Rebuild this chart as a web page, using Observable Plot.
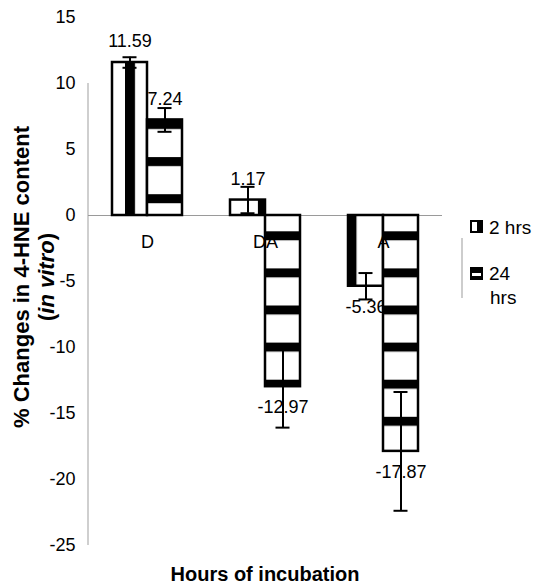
<!DOCTYPE html>
<html>
<head>
<meta charset="utf-8">
<script src="https://cdn.jsdelivr.net/npm/d3@7"></script>
<script src="https://cdn.jsdelivr.net/npm/@observablehq/plot@0.6"></script>
<style>
  body { margin: 0; background: #fff; }
  #chart svg { display: block; }
</style>
</head>
<body>
<div id="chart"></div>
<script>
// ---- data ----
const categories = ["D", "DA", "A"];
const seriesNames = ["2 hrs", "24 hrs"];
const values2h = [11.59, 1.17, -5.36];
const values24h = [7.24, -12.97, -17.87];
const errors2h = [0.4, 1.0, 1.0];
const errors24h = [0.9, 3.1, 4.5];
const labels2h = ["11.59", "1.17", "-5.36"];
const labels24h = ["7.24", "-12.97", "-17.87"];
const yTicks = [15, 10, 5, 0, -5, -10, -15, -20, -25];
const yTitle = "% Changes in 4-HNE content";
const xTitle = "Hours of incubation";

const rows2h = categories.map((c, i) => ({cat: c, value: values2h[i], err: errors2h[i], label: labels2h[i]}));
const rows24h = categories.map((c, i) => ({cat: c, value: values24h[i], err: errors24h[i], label: labels24h[i]}));

const font = "'Liberation Sans', Arial, sans-serif";
const half = 17.5;

function barMarks(rows, fill, inL, inR, dx) {
  return [
    Plot.barY(rows, {x: "cat", y: "value", insetLeft: inL, insetRight: inR,
      fill, stroke: "black", strokeWidth: 2.5}),
    Plot.ruleX(rows, {x: "cat", y1: d => d.value - d.err, y2: d => d.value + d.err,
      dx, stroke: "black", strokeWidth: 2}),
    Plot.tickY(rows, {x: "cat", y: d => d.value + d.err, dx, insetLeft: 52, insetRight: 52,
      stroke: "black", strokeWidth: 2}),
    Plot.tickY(rows, {x: "cat", y: d => d.value - d.err, dx, insetLeft: 52, insetRight: 52,
      stroke: "black", strokeWidth: 2}),
    Plot.text(rows.filter(d => d.value >= 0), {x: "cat", y: "value", text: "label", dx, dy: -21,
      fontSize: 18, fill: "black"}),
    Plot.text(rows.filter(d => d.value < 0), {x: "cat", y: "value", text: "label", dx, dy: 21,
      fontSize: 18, fill: "black"})
  ];
}

const chart = Plot.plot({
  width: 544,
  height: 587,
  marginLeft: 88,
  marginRight: 102,
  marginTop: 17,
  marginBottom: 42,
  style: {fontFamily: font, fontSize: "18px", color: "black", background: "white"},
  x: {domain: categories, padding: 0, axis: null},
  y: {domain: [-25, 15], axis: null},
  marks: [
    Plot.ruleY([0], {stroke: "#9a9a9a", strokeWidth: 1}),
    Plot.axisY({ticks: yTicks, tickSize: 0, tickPadding: 13, tickFormat: d => String(d),
      fontSize: 18, label: null}),
    ...barMarks(rows2h, "url(#vstripe)", 24, 59, -half),
    ...barMarks(rows24h, "url(#hstripe)", 59, 24, half),
    Plot.text(categories, {x: d => d, y: () => 0, dy: 27, text: d => d, fontSize: 18, fill: "black"})
  ]
});

document.getElementById("chart").appendChild(chart);

const svg = d3.select(chart);
const defs = svg.insert("defs", ":first-child");
const vp = defs.append("pattern").attr("id", "vstripe").attr("patternUnits", "userSpaceOnUse")
  .attr("x", 36.4).attr("y", 0).attr("width", 44.3).attr("height", 10);
vp.append("rect").attr("width", 44.3).attr("height", 10).attr("fill", "white");
vp.append("rect").attr("width", 10).attr("height", 10).attr("fill", "black");
const hp = defs.append("pattern").attr("id", "hstripe").attr("patternUnits", "userSpaceOnUse")
  .attr("x", 0).attr("y", 8.7).attr("width", 10).attr("height", 37.1);
hp.append("rect").attr("width", 10).attr("height", 37.1).attr("fill", "white");
hp.append("rect").attr("width", 10).attr("height", 9).attr("fill", "black");

const xs = chart.scale("x"), ys = chart.scale("y");
const x0 = xs.range[0], x1 = xs.range[1];

// y axis line
svg.insert("line", "defs + *")
  .attr("x1", x0).attr("x2", x0)
  .attr("y1", ys.apply(10)).attr("y2", ys.apply(-25))
  .attr("stroke", "#cfcfcf").attr("stroke-width", 2);

// y title (two lines)
const yt = svg.append("g").attr("font-family", font).attr("font-weight", "bold")
  .attr("font-size", 22).attr("fill", "black").attr("text-anchor", "middle");
const yc = 277;
yt.append("text").attr("transform", `translate(29,${yc}) rotate(-90)`).text(yTitle);
const yt2 = yt.append("text").attr("transform", `translate(54,${yc}) rotate(-90)`);
yt2.append("tspan").text("(");
yt2.append("tspan").attr("font-style", "italic").text("in vitro");
yt2.append("tspan").text(")");

// x title
svg.append("text").attr("x", (x0 + x1) / 2).attr("y", 581)
  .attr("font-family", font).attr("font-weight", "bold").attr("font-size", 20)
  .attr("text-anchor", "middle").attr("fill", "black").text(xTitle);

// legend
const lg = svg.append("g").attr("font-family", font).attr("font-size", 19)
  .attr("fill", "black").attr("text-anchor", "start");
lg.append("line").attr("x1", 462).attr("x2", 462).attr("y1", 238).attr("y2", 298)
  .attr("stroke", "#bdbdbd").attr("stroke-width", 1.5);
// 2 hrs swatch
lg.append("rect").attr("x", 471).attr("y", 221).attr("width", 11).attr("height", 11)
  .attr("fill", "white").attr("stroke", "black").attr("stroke-width", 2);
lg.append("rect").attr("x", 477).attr("y", 221).attr("width", 4).attr("height", 11).attr("fill", "black");
lg.append("text").attr("x", 489).attr("y", 227).attr("dominant-baseline", "central").text(seriesNames[0]);
// 24 hrs swatch
lg.append("rect").attr("x", 471).attr("y", 268).attr("width", 11).attr("height", 11)
  .attr("fill", "black").attr("stroke", "black").attr("stroke-width", 2);
lg.append("rect").attr("x", 472).attr("y", 273).attr("width", 9).attr("height", 3).attr("fill", "white");
lg.append("text").attr("x", 489).attr("y", 273).attr("dominant-baseline", "central")
  .text(seriesNames[1].split(" ")[0]);
lg.append("text").attr("x", 490).attr("y", 297).attr("dominant-baseline", "central")
  .text(seriesNames[1].split(" ")[1]);
</script>
</body>
</html>
